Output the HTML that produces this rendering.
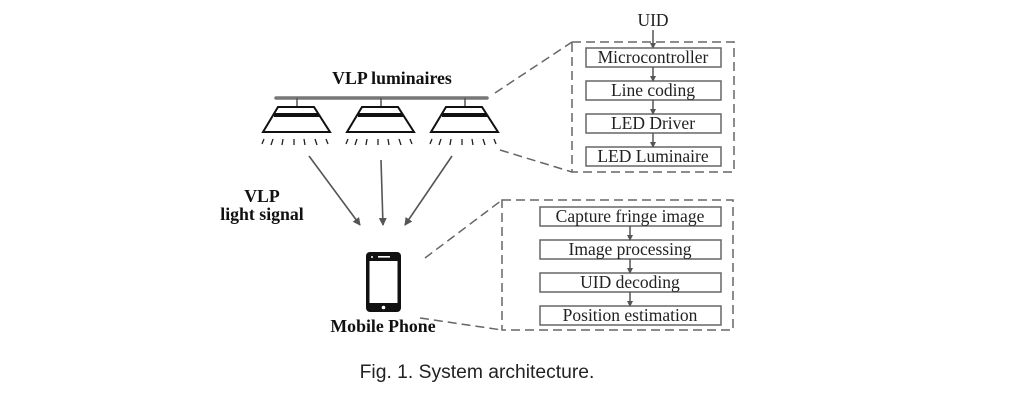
<!DOCTYPE html>
<html><head><meta charset="utf-8"><style>
html,body{margin:0;padding:0;background:#fff;}
svg{display:block;}
.t{font-family:"Liberation Serif",serif;font-size:17.5px;fill:#222;}
.b{font-family:"Liberation Serif",serif;font-size:17.8px;font-weight:bold;fill:#111;}
</style></head><body>
<svg width="1018" height="407" viewBox="0 0 1018 407">
<defs>
<marker id="a" markerWidth="8" markerHeight="8" refX="7" refY="4" orient="auto" markerUnits="userSpaceOnUse"><path d="M0,0 L8,4 L0,8 z" fill="#555"/></marker>
<marker id="s" markerWidth="6" markerHeight="6" refX="5" refY="3" orient="auto" markerUnits="userSpaceOnUse"><path d="M0,0 L6,3 L0,6 z" fill="#555"/></marker>
</defs>
<text class="b" x="392" y="84" text-anchor="middle">VLP luminaires</text>
<line x1="276" y1="98" x2="487" y2="98" stroke="#777" stroke-width="3.5" stroke-linecap="round"/>
<g id="L">
<line x1="297" y1="98" x2="297" y2="107" stroke="#555" stroke-width="1.5"/>
<path d="M278,107 L314,107 L330,132 L263,132 Z" fill="none" stroke="#111" stroke-width="2"/>
<line x1="274" y1="115" x2="319" y2="115" stroke="#111" stroke-width="4"/>
<g stroke="#222" stroke-width="1.3">
<line x1="264" y1="139" x2="262" y2="144"/><line x1="273" y1="139" x2="271" y2="145"/>
<line x1="283" y1="139" x2="282" y2="145"/><line x1="294" y1="139" x2="294" y2="145"/>
<line x1="304" y1="139" x2="305" y2="145"/><line x1="315" y1="139" x2="317" y2="145"/>
<line x1="326" y1="139" x2="328" y2="144"/>
</g>
</g>
<use href="#L" x="84"/>
<use href="#L" x="168"/>
<text class="t" x="653" y="26" text-anchor="middle">UID</text>
<line x1="653" y1="30" x2="653" y2="48" stroke="#555" stroke-width="1.5" marker-end="url(#s)"/>
<rect x="572" y="42" width="162" height="130" fill="none" stroke="#666" stroke-width="1.5" stroke-dasharray="9,5"/>
<g fill="#fff" stroke="#666" stroke-width="1.5">
<rect x="586" y="48" width="135" height="19"/><rect x="586" y="81" width="135" height="19"/>
<rect x="586" y="114" width="135" height="19"/><rect x="586" y="147" width="135" height="19"/>
</g>
<g stroke="#555" stroke-width="1.5">
<line x1="653" y1="67" x2="653" y2="81" marker-end="url(#s)"/>
<line x1="653" y1="100" x2="653" y2="114" marker-end="url(#s)"/>
<line x1="653" y1="133" x2="653" y2="147" marker-end="url(#s)"/>
</g>
<text class="t" x="653" y="63" text-anchor="middle">Microcontroller</text>
<text class="t" x="653" y="96" text-anchor="middle">Line coding</text>
<text class="t" x="653" y="129" text-anchor="middle">LED Driver</text>
<text class="t" x="653" y="162" text-anchor="middle">LED Luminaire</text>
<g stroke="#666" stroke-width="1.5" stroke-dasharray="9,5" fill="none">
<line x1="495" y1="93" x2="572" y2="42"/>
<line x1="500" y1="150" x2="572" y2="172"/>
<line x1="425" y1="258" x2="502" y2="200"/>
<line x1="420" y1="318" x2="502" y2="330"/>
</g>
<rect x="502" y="200" width="231" height="130" fill="none" stroke="#666" stroke-width="1.5" stroke-dasharray="9,5"/>
<g fill="#fff" stroke="#666" stroke-width="1.5">
<rect x="540" y="207" width="181" height="19"/><rect x="540" y="240" width="181" height="19"/>
<rect x="540" y="273" width="181" height="19"/><rect x="540" y="306" width="181" height="19"/>
</g>
<g stroke="#555" stroke-width="1.5">
<line x1="630" y1="226" x2="630" y2="240" marker-end="url(#s)"/>
<line x1="630" y1="259" x2="630" y2="273" marker-end="url(#s)"/>
<line x1="630" y1="292" x2="630" y2="306" marker-end="url(#s)"/>
</g>
<text class="t" x="630" y="222" text-anchor="middle">Capture fringe image</text>
<text class="t" x="630" y="255" text-anchor="middle">Image processing</text>
<text class="t" x="630" y="288" text-anchor="middle">UID decoding</text>
<text class="t" x="630" y="321" text-anchor="middle">Position estimation</text>
<g stroke="#555" stroke-width="1.6">
<line x1="309" y1="156" x2="360" y2="225" marker-end="url(#a)"/>
<line x1="381" y1="160" x2="383" y2="225" marker-end="url(#a)"/>
<line x1="452" y1="156" x2="405" y2="225" marker-end="url(#a)"/>
</g>
<text class="b" x="262" y="202" text-anchor="middle">VLP</text>
<text class="b" x="262" y="220" text-anchor="middle">light signal</text>
<rect x="366" y="252" width="35" height="60" rx="4" fill="#111"/>
<rect x="369.5" y="261" width="28" height="42" fill="#fff"/>
<rect x="378" y="256" width="12" height="1.6" fill="#fff"/>
<circle cx="372" cy="257" r="1" fill="#fff"/>
<circle cx="383.5" cy="307.5" r="1.8" fill="#fff"/>
<text class="b" x="383" y="332" text-anchor="middle">Mobile Phone</text>
<text x="477" y="378" text-anchor="middle" style="font-family:'Liberation Sans',sans-serif;font-size:19.3px;fill:#222">Fig. 1. System architecture.</text>
</svg>
</body></html>
